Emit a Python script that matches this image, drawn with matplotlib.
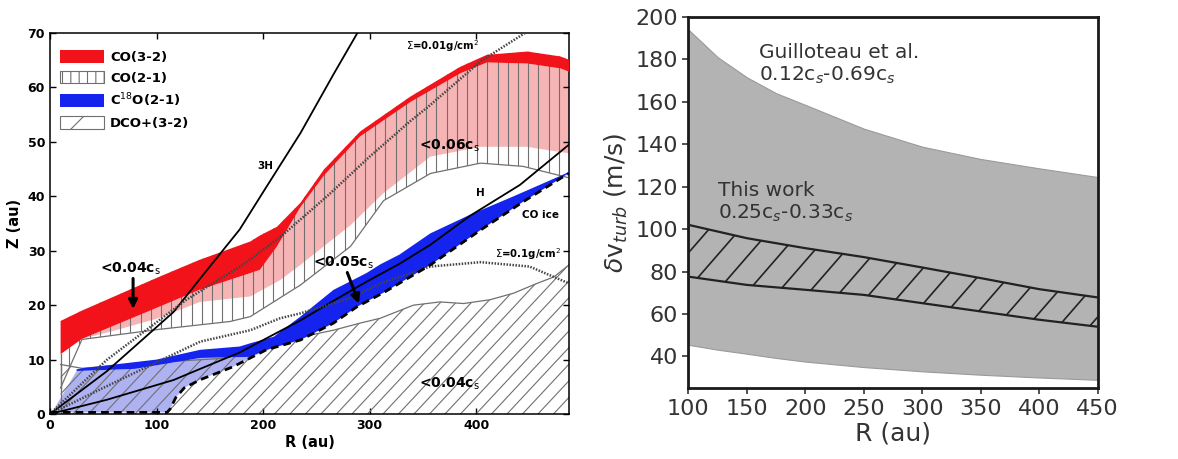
import numpy as np
import matplotlib
matplotlib.use('Agg')
from matplotlib import pyplot as plt
from matplotlib.patches import Polygon, Patch
from matplotlib.collections import LineCollection

# ---------------- left panel: emitting layers (Z vs R, au) ----------------
red_r = [10, 30, 100, 140, 188, 197, 213, 235, 257, 291, 338, 385, 410, 448, 479, 487]
red_top = [17.1, 19.0, 25.0, 28.3, 31.7, 32.8, 34.4, 38.8, 44.9, 51.9, 58.3, 63.8, 66.0, 66.6, 65.7, 65.1]
red_bot = [11.0, 13.8, 19.5, 22.8, 25.9, 26.5, 30.8, 38.0, 43.8, 51.0, 57.3, 62.6, 64.6, 64.4, 63.5, 62.9]

pink_r = [30, 60, 100, 141, 188, 216, 235, 282, 313, 357, 404, 447, 487]
pink_low = [13.8, 15.3, 17.5, 20.6, 21.6, 24.6, 27.4, 34.7, 40.6, 47.3, 49.1, 49.1, 47.9]

co21_r = [10, 30, 100, 169, 188, 235, 282, 313, 357, 404, 444, 487]
co21_low = [4.8, 13.7, 15.5, 17.0, 17.9, 23.7, 30.8, 39.2, 44.2, 46.1, 45.5, 43.4]

dco_r = [10, 30, 100, 160, 203, 225, 244, 266, 291, 310, 341, 366, 388, 413, 435, 457, 473, 487]
dco_top = [9.1, 8.4, 9.5, 10.2, 11.8, 13.6, 14.5, 15.4, 16.7, 17.6, 20.0, 20.6, 20.3, 21.0, 22.2, 24.0, 25.2, 27.4]

c18o_r = [25, 30, 100, 141, 178, 188, 210, 235, 266, 297, 310, 328, 357, 394, 435, 484, 487]
c18o_top = [8.2, 8.4, 10.0, 11.8, 12.4, 13.0, 14.2, 17.9, 22.8, 25.9, 27.5, 29.3, 33.2, 36.6, 40.0, 44.2, 44.5]
c18o_low_r = [25, 80, 141, 188, 203, 235, 266, 288, 313, 357, 404, 444, 484, 487]
c18o_low = [7.9, 8.3, 10.3, 10.5, 11.8, 13.6, 16.7, 19.7, 22.3, 27.4, 33.8, 39.0, 43.9, 44.2]

ice_r = [0, 110, 113, 118, 126, 141, 172, 203, 235, 266, 288, 313, 357, 404, 444, 484, 487]
ice_z = [0.3, 0.3, 1.0, 3.0, 4.8, 6.3, 8.7, 11.8, 13.6, 16.7, 19.7, 22.3, 27.4, 33.8, 39.0, 43.9, 44.2]

h_r = [0, 53, 116, 141, 178, 203, 235, 266, 297, 328, 357, 394, 441, 487]
h_z = [0, 2.6, 6.25, 8.3, 11.3, 13.9, 17.2, 20.8, 24.3, 27.6, 31.1, 36.4, 42.1, 49.5]

sig001_r = [0, 53, 128, 160, 178, 216, 260, 300, 338, 357, 404, 448]
sig001_z = [0, 9.9, 21.0, 24.9, 27.0, 32.5, 40.0, 47.3, 53.8, 56.8, 64.8, 70.3]
sig01_r = [0, 50, 100, 141, 188, 216, 235, 282, 310, 357, 404, 450, 487]
sig01_z = [0, 4.8, 9.5, 13.3, 15.4, 17.6, 18.5, 21.3, 24.0, 27.1, 27.9, 27.1, 24.0]

# ---------------- right panel: turbulent velocity (m/s) ----------------
guil_r = [100, 125, 150, 175, 200, 250, 300, 350, 400, 450]
guil_hi = [194, 181, 171.5, 164, 158.5, 147.3, 138.8, 133, 128.6, 124.5]
guil_lo = [45.5, 43.2, 41.3, 39.3, 37.6, 35.0, 33.0, 31.4, 30.1, 29.0]
this_r = [100, 150, 200, 250, 300, 350, 400, 450]
this_hi = [102, 95.7, 91.0, 86.8, 81.9, 76.9, 71.7, 67.8]
this_lo = [77.6, 73.7, 71.4, 69.0, 65.1, 61.2, 57.3, 54.0]

RED = '#f2121a'
PINK = '#f7b4b5'
BLUE = '#1424ee'
LBLUE = '#aeb2f0'
HGRAY = '#707070'

plt.rcParams['hatch.linewidth'] = 0.8


def band(r_up, z_up, r_dn, z_dn):
    xs = np.r_[r_up, np.asarray(r_dn)[::-1]]
    ys = np.r_[z_up, np.asarray(z_dn)[::-1]]
    return np.column_stack([xs, ys])


def hatch(ax, patch, step_px, angle, color, lw, zorder):
    # straight lines at a fixed pixel spacing, clipped to the patch
    x0, y0, x1, y1 = ax.bbox.extents
    th = np.deg2rad(angle)
    d = np.array([np.cos(th), np.sin(th)])
    n = np.array([-np.sin(th), np.cos(th)])
    corners = np.array([[x0, y0], [x1, y0], [x0, y1], [x1, y1]])
    proj = corners @ n
    gap = step_px * abs(np.sin(th))
    length = np.hypot(x1 - x0, y1 - y0)
    inv = ax.transData.inverted()
    segs = []
    for o in np.arange(proj.min(), proj.max() + gap, gap):
        p = o * n + (corners.mean(axis=0) @ d) * d
        segs.append(inv.transform(np.array([p - length * d, p + length * d])))
    lc = LineCollection(segs, colors=color, linewidths=lw, zorder=zorder)
    ax.add_collection(lc, autolim=False)
    lc.set_clip_path(patch)


fig = plt.figure(figsize=(11.78, 4.59), dpi=100)
ax1 = fig.add_axes([0.0424, 0.098, 0.4406, 0.830])
ax2 = fig.add_axes([0.5843, 0.154, 0.3475, 0.8096])

# ======================= left panel =======================
ax1.set_xlim(0, 487)
ax1.set_ylim(0, 70)

red_r_a = np.array(red_r)
red_bot_a = np.array(red_bot)
c18o_low_r_a = np.array(c18o_low_r)
c18o_low_a = np.array(c18o_low)
ice_r_a = np.array(ice_r)
ice_z_a = np.array(ice_z)

# light blue area under C18O, inside the CO ice line
m1 = c18o_low_r_a <= 203
m2 = (ice_r_a >= 110) & (ice_r_a <= 203)
lb = np.vstack([[[2, 0.3]],
                np.column_stack([c18o_low_r_a[m1], c18o_low_a[m1]]),
                np.column_stack([ice_r_a[m2][::-1], ice_z_a[m2][::-1]])])
ax1.add_patch(Polygon(lb, closed=True, facecolor=LBLUE, edgecolor='none', zorder=1))

# pink region under the CO(3-2) layer
m3 = red_r_a >= 30
ax1.add_patch(Polygon(band(red_r_a[m3], red_bot_a[m3], pink_r, pink_low),
                      closed=True, facecolor=PINK, edgecolor='none', zorder=1))

# DCO+(3-2) hatched region
dco_poly = Polygon(band(dco_r, dco_top, [10, 487], [0, 0]), closed=True,
                   facecolor='none', edgecolor='none', zorder=2)
ax1.add_patch(dco_poly)
hatch(ax1, dco_poly, 15.5, 47, HGRAY, 0.8, 2)
ax1.plot(dco_r, dco_top, color=HGRAY, lw=0.9, zorder=2)
ax1.plot([10, 10], [0, dco_top[0]], color=HGRAY, lw=0.9, zorder=2)

# CO(2-1) vertical hatch
co21_poly = Polygon(band(red_r, red_top, co21_r, co21_low), closed=True,
                    facecolor='none', edgecolor='none', zorder=2)
ax1.add_patch(co21_poly)
hatch(ax1, co21_poly, 10.2, 90, HGRAY, 0.8, 2)
ax1.plot(co21_r, co21_low, color=HGRAY, lw=0.9, zorder=2)
ax1.plot([10, 10], [co21_low[0], red_bot[0]], color=HGRAY, lw=0.9, zorder=2)

# CO(3-2) and C18O(2-1) layers
ax1.add_patch(Polygon(band(red_r, red_top, red_r, red_bot), closed=True,
                      facecolor=RED, edgecolor='none', zorder=3))
ax1.add_patch(Polygon(band(c18o_r, c18o_top, c18o_low_r, c18o_low), closed=True,
                      facecolor=BLUE, edgecolor='none', zorder=3))

# scale heights, surface density contours and CO ice line
ax1.plot(h_r, h_z, color='k', lw=1.3, zorder=4)
ax1.plot(h_r, 3 * np.array(h_z), color='k', lw=1.3, zorder=4)
ax1.plot(sig001_r, sig001_z, color='#444444', lw=1.8, ls=(0, (0.6, 0.6)), zorder=4)
ax1.plot(sig01_r, sig01_z, color='#444444', lw=1.8, ls=(0, (0.6, 0.6)), zorder=4)
ax1.plot(ice_r, ice_z, color='k', lw=2.0, ls=(0, (2.8, 1.8)), zorder=4)

tb = dict(fontweight='bold', zorder=5, ha='center', va='center')
ax1.text(202, 45.5, '3H', fontsize=7.5, **tb)
ax1.text(404, 40.6, 'H', fontsize=7.5, **tb)
ax1.text(460, 36.5, 'CO ice', fontsize=7.5, **tb)
ax1.text(368, 67.6, r'$\Sigma$=0.01g/cm$^2$', fontsize=7.3, **tb)
ax1.text(449, 29.4, r'$\Sigma$=0.1g/cm$^2$', fontsize=7.3, **tb)
ax1.text(375, 49.3, r'<0.06c$_{\rm s}$', fontsize=10, **tb)
ax1.text(375, 5.5, r'<0.04c$_{\rm s}$', fontsize=10, **tb)
ax1.text(76, 26.7, r'<0.04c$_{\rm s}$', fontsize=10, **tb)
ax1.text(275, 27.8, r'<0.05c$_{\rm s}$', fontsize=10, **tb)
arrow = dict(arrowstyle='-|>', lw=2.2, color='k', mutation_scale=13, shrinkA=0, shrinkB=0)
ax1.annotate('', xy=(78, 19.3), xytext=(78, 24.9), arrowprops=arrow, zorder=5)
ax1.annotate('', xy=(290, 20.3), xytext=(279, 26.0), arrowprops=arrow, zorder=5)

handles = [Patch(facecolor=RED, edgecolor='none', label='CO(3-2)'),
           Patch(facecolor='white', edgecolor=HGRAY, hatch='||', lw=0.8, label='CO(2-1)'),
           Patch(facecolor=BLUE, edgecolor='none', label=r'C$^{18}$O(2-1)'),
           Patch(facecolor='white', edgecolor=HGRAY, hatch='/', lw=0.8, label='DCO+(3-2)')]
ax1.legend(handles=handles, loc='upper left', bbox_to_anchor=(-0.006, 0.99), frameon=False,
           prop={'weight': 'bold', 'size': 9.5}, handlelength=3.3, handleheight=1.1,
           handletextpad=0.5, labelspacing=0.52, borderaxespad=0.6)

ax1.set_xticks([0, 100, 200, 300, 400])
ax1.set_yticks(range(0, 71, 10))
ax1.tick_params(direction='in', top=True, right=True, length=4, width=1, labelsize=9)
for lab in ax1.get_xticklabels() + ax1.get_yticklabels():
    lab.set_fontweight('bold')
for sp in ax1.spines.values():
    sp.set_linewidth(1.1)
ax1.set_xlabel('R (au)', fontweight='bold', fontsize=10.5, labelpad=2)
ax1.set_ylabel('Z (au)', fontweight='bold', fontsize=10.5, labelpad=4)

# ======================= right panel =======================
ax2.set_xlim(100, 450)
ax2.set_ylim(25, 200)
TXT = '#333333'

ax2.fill_between(guil_r, guil_lo, guil_hi, facecolor='#b3b3b3', edgecolor='#9a9a9a',
                 lw=0.8, zorder=1)
this_poly = Polygon(band(this_r, this_hi, this_r, this_lo), closed=True,
                    facecolor='none', edgecolor='none', zorder=2)
ax2.add_patch(this_poly)
hatch(ax2, this_poly, 31, 49, '#222222', 1.2, 2)
ax2.plot(this_r, this_hi, color='#222222', lw=1.6, zorder=3)
ax2.plot(this_r, this_lo, color='#222222', lw=1.6, zorder=3)

ax2.text(160.5, 177.5, 'Guilloteau et al.\n0.12c$_s$-0.69c$_s$', fontsize=14.5,
         color=TXT, ha='left', va='center', linespacing=1.15)
ax2.text(125.6, 112.5, 'This work\n0.25c$_s$-0.33c$_s$', fontsize=14.5,
         color=TXT, ha='left', va='center', linespacing=1.15)

ax2.set_xticks(range(100, 451, 50))
ax2.set_yticks(range(40, 201, 20))
ax2.tick_params(direction='out', length=4, width=1.2, labelsize=16, colors=TXT)
for sp in ax2.spines.values():
    sp.set_linewidth(2.0)
    sp.set_color('#1a1a1a')
ax2.set_xlabel('R (au)', fontsize=18, color=TXT, labelpad=2)
ax2.set_ylabel(r'$\delta$v$_{turb}$ (m/s)', fontsize=18, color=TXT, labelpad=4)

fig.savefig('out.png', dpi=100)
